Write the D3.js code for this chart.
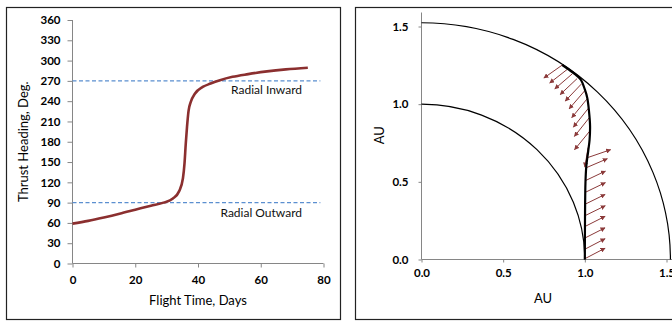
<!DOCTYPE html>
<html><head><meta charset="utf-8">
<script src="https://cdn.jsdelivr.net/npm/d3@7"></script>
<style>
html,body{margin:0;padding:0;background:#fff;}
svg{display:block;font-family:Lato,"Open Sans",sans-serif;}
</style></head>
<body><svg id="c" width="672" height="322"></svg>
<script>
// ---- Left chart data: thrust heading vs flight time ----
const flightDays = [0, 5, 10, 15, 20, 25, 29, 32, 34, 35.2, 35.7, 36.1, 36.5, 37, 37.7, 39, 41.5, 44, 47, 51, 56, 62, 68, 75];
const headingDeg = [59, 63, 68, 73.5, 79.5, 85.5, 90, 96, 107, 126, 148, 177, 202, 226, 239, 251, 261, 266, 271, 276, 280, 284, 287, 289.5];
const refHeadings = [270, 90];
const refLabels = ["Radial Inward", "Radial Outward"];
const leftXTicks = [0, 20, 40, 60, 80];
const leftYTicks = [0, 30, 60, 90, 120, 150, 180, 210, 240, 270, 300, 330, 360];

// ---- Right chart data: trajectory in AU ----
const orbitRadii = [1.0, 1.524];
const trajX = [1.000, 1.001, 1.004, 1.009, 1.021, 1.029, 1.032, 1.025, 1.015, 1.000, 0.974, 0.940, 0.900, 0.862];
const trajY = [0.000, 0.250, 0.500, 0.600, 0.700, 0.770, 0.860, 0.960, 1.040, 1.095, 1.160, 1.193, 1.224, 1.252];
// thrust arrows: tail position and vector (AU)
const arrowX  = [1.000, 1.000, 1.000, 1.000, 1.001, 1.002, 1.004, 1.004, 1.009, 1.020, 1.020, 1.032, 1.028, 1.022, 1.012, 0.999, 0.978, 0.953, 0.923, 0.895, 0.862];
const arrowY  = [0.005, 0.066, 0.138, 0.212, 0.282, 0.356, 0.433, 0.508, 0.591, 0.657, 0.721, 0.829, 0.914, 0.974, 1.032, 1.086, 1.129, 1.165, 1.195, 1.226, 1.252];
const arrowDX = [0.124, 0.124, 0.124, 0.124, 0.124, 0.122, 0.122, 0.122, 0.129, 0.138, -0.020, -0.095, -0.092, -0.092, -0.092, -0.095, -0.098, -0.104, -0.107, -0.110, -0.113];
const arrowDY = [0.068, 0.068, 0.066, 0.066, 0.064, 0.063, 0.062, 0.061, 0.058, 0.050, -0.126, -0.122, -0.122, -0.122, -0.119, -0.116, -0.109, -0.103, -0.097, -0.090, -0.084];
const rightTicks = [0, 0.5, 1.0, 1.5];

const svg = d3.select("#c");
const axisCol = "#868686";
const curveCol = "#8B2F2F";

// panel borders
svg.append("rect").attr("x",6.5).attr("y",7.5).attr("width",334).attr("height",312)
  .attr("fill","none").attr("stroke","#222").attr("stroke-width",1.2);
svg.append("rect").attr("x",355.5).attr("y",7.5).attr("width",330).attr("height",312)
  .attr("fill","none").attr("stroke","#222").attr("stroke-width",1.2);

// ---------- LEFT ----------
const xL = d3.scaleLinear().domain([0,80]).range([72.5,323.5]);
const yL = d3.scaleLinear().domain([0,360]).range([263.5,20]);
const gL = svg.append("g");

const axL = gL.append("g").attr("transform",`translate(0,${yL(0)})`)
  .call(d3.axisBottom(xL).tickValues(leftXTicks).tickSize(4).tickPadding(8).tickFormat(d3.format("d")));
const ayL = gL.append("g").attr("transform",`translate(${xL(0)},0)`)
  .call(d3.axisLeft(yL).tickValues(leftYTicks).tickSize(5).tickPadding(7).tickFormat(d3.format("d")));
[axL, ayL].forEach(a=>{
  a.select(".domain").attr("stroke",axisCol);
  a.selectAll(".tick line").attr("stroke",axisCol);
  a.selectAll("text").attr("fill","#000").style("font-size","11.5px").style("font-weight","bold").style("font-family","Lato");
});
axL.select(".domain").attr("d",`M${xL(0)},0H${xL(80)}`);
ayL.select(".domain").attr("d",`M0,${yL(360)}V${yL(0)}`);

// reference dashed lines
gL.selectAll("line.ref").data(refHeadings).join("line").attr("class","ref")
  .attr("x1",xL(0)).attr("x2",xL(79)).attr("y1",d=>yL(d)).attr("y2",d=>yL(d))
  .attr("stroke","#5B8FD0").attr("stroke-width",1.2).attr("stroke-dasharray","4,2.5");

gL.selectAll("text.refl").data(refLabels).join("text").attr("class","refl")
  .attr("x",302).attr("y",(d,i)=>yL(refHeadings[i]) + (i===0?13:14.5))
  .attr("text-anchor","end").style("font-size","12px").style("font-family","Lato").attr("fill","#111")
  .text(d=>d);

const lineL = d3.line().x(d=>xL(d[0])).y(d=>yL(d[1])).curve(d3.curveMonotoneX);
gL.append("path").datum(flightDays.map((t,i)=>[t,headingDeg[i]]))
  .attr("d",lineL).attr("fill","none").attr("stroke",curveCol).attr("stroke-width",2.6);

gL.append("text").attr("x",198).attr("y",305).attr("text-anchor","middle")
  .style("font-size","13px").style("font-family","Lato").text("Flight Time, Days");
gL.append("text").attr("transform",`translate(28,${(yL(0)+yL(360))/2}) rotate(-90)`)
  .attr("text-anchor","middle").style("font-size","13px").style("font-family","Lato").text("Thrust Heading, Deg.");

// ---------- RIGHT ----------
const xR = d3.scaleLinear().domain([0,1.5]).range([421.5,666.5]);
const yR = d3.scaleLinear().domain([0,1.5]).range([259.5,26.5]);
const gR = svg.append("g");

const axR = gR.append("g").attr("transform",`translate(0,${yR(0)})`)
  .call(d3.axisBottom(xR).tickValues(rightTicks).tickSize(3).tickPadding(6).tickFormat(d3.format(".1f")));
const ayR = gR.append("g").attr("transform",`translate(${xR(0)},0)`)
  .call(d3.axisLeft(yR).tickValues(rightTicks).tickSize(3).tickPadding(10).tickFormat(d3.format(".1f")));
[axR, ayR].forEach(a=>{
  a.select(".domain").attr("stroke",axisCol);
  a.selectAll(".tick line").attr("stroke",axisCol);
  a.selectAll("text").attr("fill","#000").style("font-size","11.5px").style("font-weight","bold").style("font-family","Lato");
});
axR.select(".domain").attr("d",`M${xR(0)},0H${xR(1.6)}`);
ayR.select(".domain").attr("d",`M0,${yR(1.59)}V${yR(0)}`);

// orbits (quarter ellipses in screen space)
gR.selectAll("path.orbit").data(orbitRadii).join("path").attr("class","orbit")
  .attr("d",r=>`M${xR(0)},${yR(r)} A${xR(r)-xR(0)},${yR(0)-yR(r)} 0 0 1 ${xR(r)},${yR(0)}`)
  .attr("fill","none").attr("stroke","#000").attr("stroke-width",1.2);

// arrow marker
svg.append("defs").append("marker").attr("id","ah").attr("viewBox","0 0 10 10")
  .attr("refX",9).attr("refY",5).attr("markerWidth",5).attr("markerHeight",5)
  .attr("orient","auto").attr("markerUnits","userSpaceOnUse")
  .append("path").attr("d","M0,0L10,5L0,10z").attr("fill","#8B3A3A");

gR.selectAll("line.arr").data(arrowX).join("line").attr("class","arr")
  .attr("x1",(d,i)=>xR(arrowX[i])).attr("y1",(d,i)=>yR(arrowY[i]))
  .attr("x2",(d,i)=>xR(arrowX[i]+arrowDX[i])).attr("y2",(d,i)=>yR(arrowY[i]+arrowDY[i]))
  .attr("stroke","#8B3A3A").attr("stroke-width",1).attr("marker-end","url(#ah)");

const lineR = d3.line().x(d=>xR(d[0])).y(d=>yR(d[1])).curve(d3.curveCatmullRom);
gR.append("path").datum(trajX.map((x,i)=>[x,trajY[i]]))
  .attr("d",lineR).attr("fill","none").attr("stroke","#000").attr("stroke-width",2.2);

gR.append("text").attr("x",543).attr("y",303).attr("text-anchor","middle")
  .style("font-size","13px").style("font-family","Lato").text("AU");
gR.append("text").attr("transform",`translate(384,${(yR(0)+yR(1.6))/2}) rotate(-90)`)
  .attr("text-anchor","middle").style("font-size","13px").style("font-family","Lato").text("AU");
</script></body></html>
